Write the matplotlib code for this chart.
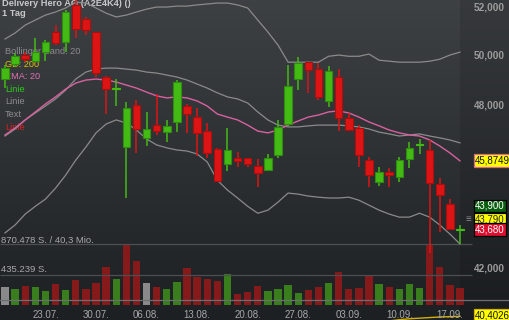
import numpy as np
import pandas as pd
import matplotlib
matplotlib.use('Agg')
import matplotlib.pyplot as plt
from matplotlib.transforms import blended_transform_factory

plt.rcParams['font.family'] = ['Liberation Sans', 'DejaVu Sans']

# trading days shown (Xetra, daily candles)
dates = pd.bdate_range('2018-07-17', '2018-09-18')

opens = [49.04, 49.65, 50.01, 49.77, 50.14, 50.96, 50.55, 52.10, 51.50, 50.96,
         49.12, 48.64, 46.39, 48.01, 46.74, 47.23, 46.97, 47.35, 47.97, 47.54,
         47.00, 46.32, 45.75, 45.98, 45.98, 45.68, 45.53, 46.09, 47.27, 49.04,
         49.73, 49.44, 48.17, 49.12, 47.51, 47.12, 45.90, 45.09, 45.46, 45.27,
         45.94, 46.47, 46.28, 45.01, 44.28, 43.34]
highs = [49.61, 50.09, 50.14, 50.71, 50.63, 51.25, 51.88, 52.30, 51.59, 50.96,
         49.16, 49.04, 48.13, 48.21, 47.74, 48.44, 47.43, 49.00, 48.05, 47.89,
         47.31, 46.36, 47.12, 46.21, 45.98, 45.94, 46.13, 47.43, 49.61, 49.93,
         49.73, 49.69, 49.57, 49.44, 47.70, 47.23, 46.02, 45.64, 45.61, 46.02,
         46.58, 46.70, 46.66, 45.23, 44.47, 43.53]
lows = [48.68, 49.52, 49.73, 49.73, 49.77, 50.42, 50.14, 50.71, 50.84, 49.12,
        47.66, 47.97, 44.50, 46.17, 46.43, 46.85, 46.58, 46.97, 46.93, 46.05,
        45.98, 45.09, 45.49, 45.64, 45.64, 44.90, 45.49, 45.98, 47.20, 48.60,
        48.49, 48.21, 47.93, 47.00, 47.00, 45.64, 44.90, 44.94, 44.90, 45.09,
        45.61, 46.13, 42.54, 43.28, 43.35, 42.86]
closes = [49.48, 49.97, 49.85, 50.14, 50.55, 50.50, 51.80, 51.09, 51.04, 49.28,
          48.64, 48.68, 47.89, 47.08, 47.08, 47.00, 47.20, 48.92, 47.66, 46.93,
          46.17, 45.12, 46.28, 45.87, 45.75, 45.42, 45.98, 47.16, 48.76, 49.69,
          49.40, 48.33, 49.36, 47.51, 47.04, 46.09, 45.35, 45.46, 45.35, 45.90,
          46.36, 46.51, 45.05, 44.61, 43.39, 43.37]
volume = [261000, 224000, 271000, 261000, 195000, 295000, 218000, 352000, 228000, 309000,
          538000, 366000, 870478, 628000, 318000, 261000, 228000, 328000, 523000, 404000,
          366000, 347000, 438000, 157000, 190000, 275000, 204000, 233000, 281000, 171000,
          218000, 257000, 309000, 466000, 224000, 243000, 432000, 295000, 252000, 233000,
          300000, 243000, 865000, 538000, 285000, 243000]

bb_upper = [50.67, 50.92, 51.25, 51.46, 51.67, 51.80, 51.97, 52.22, 52.18, 51.97,
            51.75, 51.59, 51.67, 51.80, 51.92, 52.01, 52.01, 52.05, 52.05, 52.10,
            52.14, 52.18, 52.18, 52.10, 51.97, 51.46, 50.96, 50.42, 49.72, 49.72,
            49.72, 49.72, 49.96, 50.01, 49.96, 49.96, 50.05, 49.80, 49.76, 49.72,
            49.72, 49.72, 49.76, 49.84, 50.01, 50.13]
bb_mid = [46.81, 47.08, 47.43, 47.70, 47.97, 48.25, 48.60, 49.04, 49.32, 49.44,
          49.48, 49.48, 49.44, 49.40, 49.32, 49.28, 49.20, 49.12, 49.00, 48.84,
          48.68, 48.49, 48.33, 48.25, 48.09, 47.74, 47.43, 47.23, 47.16, 47.16,
          47.20, 47.23, 47.23, 47.23, 47.20, 47.16, 47.08, 46.96, 46.89, 46.81,
          46.85, 46.89, 46.81, 46.74, 46.66, 46.55]
bb_lower = [43.25, 43.53, 43.92, 44.20, 44.46, 44.86, 45.34, 45.90, 46.39, 46.93,
            47.27, 47.43, 47.31, 47.04, 46.70, 46.47, 46.36, 46.28, 46.24, 46.13,
            45.83, 45.15, 44.79, 44.50, 44.20, 43.95, 44.06, 44.35, 44.68, 44.64,
            44.57, 44.53, 44.50, 44.50, 44.53, 44.42, 44.24, 44.06, 43.92, 43.81,
            43.81, 43.95, 43.81, 43.53, 43.21, 42.86]
ema20 = [46.85, 47.12, 47.43, 47.74, 48.05, 48.33, 48.64, 48.88, 49.00, 49.04,
         49.00, 48.92, 48.80, 48.68, 48.52, 48.37, 48.29, 48.33, 48.29, 48.17,
         47.97, 47.66, 47.54, 47.43, 47.23, 47.00, 46.93, 47.04, 47.23, 47.39,
         47.54, 47.62, 47.74, 47.78, 47.70, 47.54, 47.35, 47.20, 47.04, 46.93,
         46.85, 46.81, 46.66, 46.43, 46.17, 45.87]
# GD 200 only enters the visible range at the very end
gd200 = [np.nan] * 37 + [40.22, 40.25, 40.29, 40.32, 40.34, 40.36, 40.38, 40.39, 40.40]

price_ticks = [52, 50, 48, 42]
quotes = ['43,900', '43,790', '43,680']
ema_last = '45,8749'
gd_last = '40,4026'

W, H = 510, 320
fig = plt.figure(figsize=(W / 100, H / 100), dpi=100)

def fy(ypx):
    return 1 - ypx / H

# background gradient, right price strip a bit darker
bg = fig.add_axes([0, 0, 1, 1])
t = np.linspace(0, 1, H)[:, None, None]
top = np.array([0x3e, 0x41, 0x44]) / 255
bot = np.array([0x1d, 0x20, 0x23]) / 255
img = np.repeat(top + (bot - top) * t, W, axis=1)
img[:, 460:] *= 0.88
bg.imshow(img, aspect='auto', extent=[0, 1, 0, 1])
bg.set_xlim(0, 1)
bg.set_ylim(0, 1)
bg.axis('off')

# title and legend sit under the candles
bg.text(2 / W, fy(4), 'Delivery Hero AG (A2E4K4) ()', fontsize=6.7, color='#c8c8c8',
        fontweight='bold', va='center')
bg.text(2 / W, fy(13), '1 Tag', fontsize=6.7, color='#c8c8c8', fontweight='bold', va='center')
legend = [('Bollinger Band: 20', '#8c8c8c'), ('GD: 200', '#e0c000'), ('EMA: 20', '#e070b0'),
          ('Linie', '#2ecc1a'), ('Linie', '#8c8c8c'), ('Text', '#8c8c8c'), ('Linie', '#dd2222')]
for k, (txt, col) in enumerate(legend):
    bg.text(5 / W, fy(51.7 + 12.55 * k), txt, fontsize=6.6, color=col, va='center')

x = np.arange(len(dates))
xlim = (-5 / 10.111, (W - 5) / 10.111)

# volume (bottom layer)
axv = fig.add_axes([0, 0, 1, 1], facecolor='none')
prev = [np.nan] + closes[:-1]
vcol = []
for c, p in zip(closes, prev):
    if np.isnan(p) or c == p:
        vcol.append('#8a8a8a')
    elif c > p:
        vcol.append('#3a7d1c')
    else:
        vcol.append('#861a1a')
axv.bar(x, volume, width=0.72, color=vcol, linewidth=0)
vmax = max(volume)
axv.hlines([vmax, vmax / 2], xlim[0], (472 - 5) / 10.111, color='#4c4f52', lw=0.9)
axv.set_xlim(*xlim)
axv.set_ylim(-15 / 61 * vmax, (H - 15) / 61 * vmax)
axv.axis('off')

# price (log scale)
ax = fig.add_axes([0, 0, 1, 1], facecolor='none')
ax.set_yscale('log')
ax.set_xlim(*xlim)
ax.set_ylim(40.28, 52.31)
ax.axis('off')

ax.plot(x, bb_upper, color='#8a8a8a', lw=0.9)
ax.plot(x, bb_mid, color='#8a8a8a', lw=0.9)
ax.plot(x, bb_lower, color='#8a8a8a', lw=0.9)
ax.plot(x, ema20, color='#d9609f', lw=1.0)
ax.plot(x, gd200, color='#d4b000', lw=1.0, clip_on=False)

for i in x:
    o, h, l, c = opens[i], highs[i], lows[i], closes[i]
    up = c >= o
    fc = '#44bb14' if up else '#dd1414'
    ec = '#2f8c10' if up else '#a81010'
    ax.vlines(i, l, h, color=fc, lw=1.1, zorder=3)
    ax.bar(i, abs(c - o), bottom=min(o, c), width=0.74, color=fc,
           edgecolor=ec if abs(c - o) > 0.1 else fc, linewidth=0.8, zorder=4)

# baseline above the date labels
fig.add_artist(plt.Line2D([0, 1], [fy(300), fy(300)], color='#6c6f72', lw=0.9))

trx = blended_transform_factory(ax.transData, fig.transFigure)
for i, d in enumerate(dates):
    if d.weekday() == 0:
        ax.text(i, fy(315.5), d.strftime('%d.%m.'), transform=trx, ha='center',
                va='center', fontsize=7, color='#a8a8a8')

# right price axis
try_ = blended_transform_factory(fig.transFigure, ax.transData)
for v in price_ticks:
    ax.text(489 / W, v, f'{v},000', transform=try_, ha='center', va='center',
            fontsize=7.2, color='#9c9c9c', fontweight='bold')

fig.text(1 / W, fy(240), '870.478 S. / 40,3 Mio.', fontsize=6.8, color='#a8a8a8', va='center')
fig.text(1 / W, fy(270), '435.239 S.', fontsize=6.8, color='#a8a8a8', va='center')

# price boxes on the right
def box(ypx, txt, fc, ec, tc):
    fig.text(475 / W, fy(ypx), txt, fontsize=7, color=tc, va='center', ha='left',
             bbox=dict(boxstyle='square,pad=0.12', fc=fc, ec=ec, lw=0.9))

box(160.5, ema_last, '#ffff00', '#e060a0', '#111111')
box(206, quotes[0], '#0b5e10', '#000000', '#ffffff')
box(219, quotes[1], '#ffff00', '#000000', '#222222')
box(229.5, quotes[2], '#dd1030', '#000000', '#ffffff')
box(315, gd_last, '#ffff00', '#d4b000', '#111111')
fig.text(468 / W, fy(219), '\u2261', fontsize=7, color='#8c8c8c', va='center', ha='center')

fig.savefig('out.png', dpi=100)
